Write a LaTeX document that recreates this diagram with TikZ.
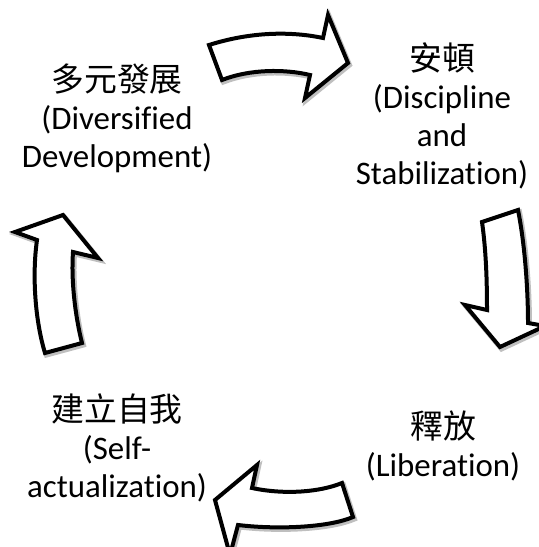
\documentclass[tikz,border=0pt]{standalone}
\usepackage{fontspec}
\setmainfont{Carlito}[Ligatures={NoCommon,NoContextual}]
\newfontfamily\cjk{Noto Sans CJK TC}
\usetikzlibrary{calc}
\tikzset{%
  mynode/.style={align=center, font=\fontsize{33}{38}\selectfont, inner sep=0pt},
  myarrow/.style={draw=black, fill=white, line width=4bp, line join=miter,
    preaction={draw=black!25, line width=5bp, transform canvas={shift={(1.5bp,-2bp)}}}}
}

\begin{document}
\begin{tikzpicture}[x=1bp, y=-1bp]
  \useasboundingbox (0,0) rectangle (539,547);

  \node[mynode] (n1) at (117,118) {{\cjk 多元發展}\\(Diversified\\Development)};
  \node[mynode] (n2) at (442,116) {{\cjk 安頓}\\(Discipline\\and\\Stabilization)};
  \node[mynode] (n3) at (443,446) {{\cjk 釋放}\\(Liberation)};
  \node[mynode] (n4) at (117,448) {{\cjk 建立自我}\\(Self-\\actualization)};

  % top arrow
  \draw[myarrow] (209,45) .. controls (250,32) and (290,31) .. (323,38)
    -- (328,15) -- (348,63) -- (305,98) -- (310,75)
    .. controls (285,69) and (250,69) .. (222,80) -- cycle;
  % right arrow
  \draw[myarrow] (482,222) -- (518,210) .. controls (525,245) and (528,290) .. (528,323)
    -- (545,326) -- (500,347) -- (465,305) -- (487,310)
    .. controls (487,280) and (486,250) .. (482,222) -- cycle;
  % bottom arrow
  \draw[myarrow] (342,483) -- (353,517) .. controls (330,527) and (280,530) .. (238,525)
    -- (230,555) -- (215,500) -- (257,465) -- (252,488)
    .. controls (285,495) and (320,492) .. (342,483) -- cycle;
  % left arrow
  \draw[myarrow] (45,353) -- (82,343) .. controls (75,315) and (71,280) .. (73,252)
    -- (98,258) -- (63,215) -- (15,232) -- (37,240)
    .. controls (32,275) and (35,320) .. (45,353) -- cycle;
\end{tikzpicture}
\end{document}
